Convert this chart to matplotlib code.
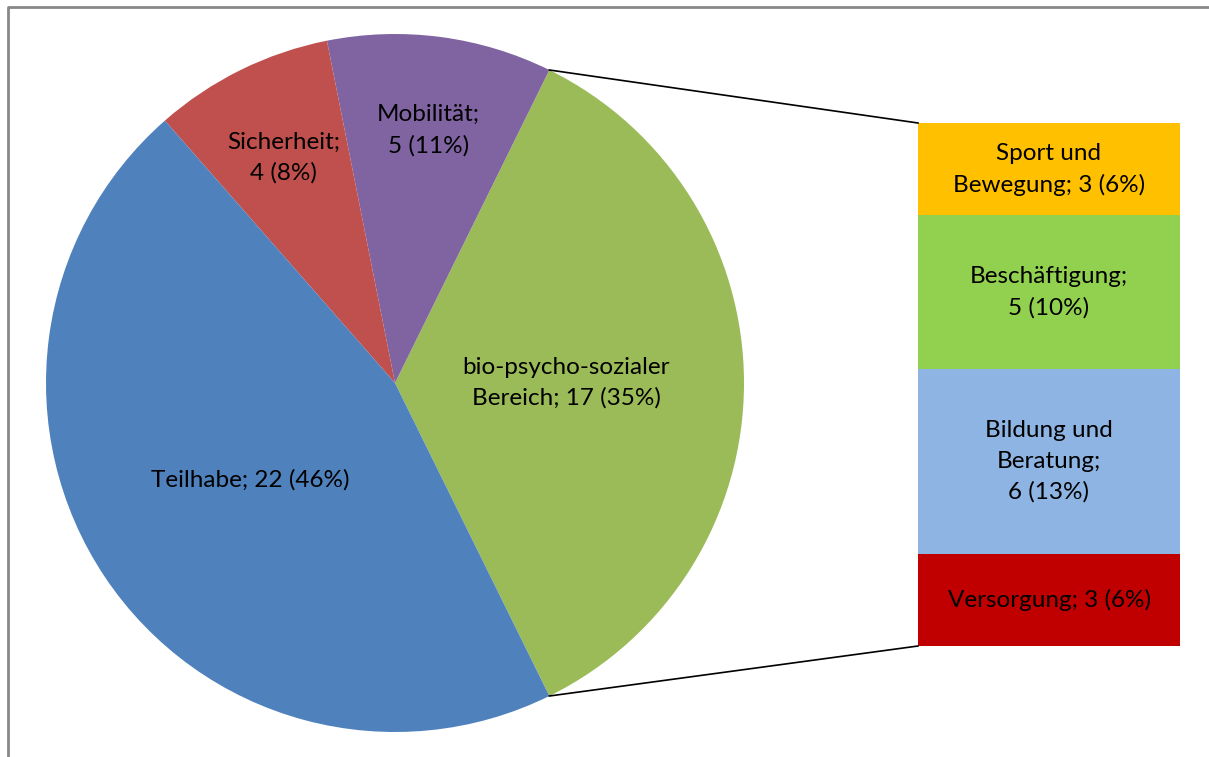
import matplotlib.pyplot as plt
import numpy as np

plt.rcParams['font.family'] = ['Lato', 'DejaVu Sans']

# pie: main categories
pie_labels = ['bio-psycho-sozialer\nBereich', 'Mobilität', 'Sicherheit', 'Teilhabe']
pie_values = [17, 5, 4, 22]
pie_pct = ['35%', '11%', '8%', '46%']
pie_colors = ['#9BBB59', '#8064A2', '#C0504D', '#4F81BD']

# bar: breakdown of the bio-psycho-social slice (bottom to top)
bar_labels = ['Versorgung', 'Bildung und\nBeratung', 'Beschäftigung', 'Sport und\nBewegung']
bar_values = [3, 6, 5, 3]
bar_pct = ['6%', '13%', '10%', '6%']
bar_colors = ['#C00000', '#8DB4E2', '#92D050', '#FFC000']

W, H = 1209, 757
fig = plt.figure(figsize=(W / 100, H / 100), dpi=100)
ax = fig.add_axes([0, 0, 1, 1])

cx, cy, r = 395, H - 383, 349
total = sum(pie_values)
half = pie_values[0] / total * 180
wedges, _ = ax.pie(pie_values, colors=pie_colors, startangle=-half, counterclock=True,
                   center=(cx, cy), radius=r, frame=True,
                   wedgeprops=dict(linewidth=0))
ax.set_xlim(0, W)
ax.set_ylim(0, H)
ax.set_aspect('equal')
ax.axis('off')

fs = 17.5
ls = 1.55
label_dist = [0.49, 0.73, 0.72, 0.5]
for w, lab, v, p, d in zip(wedges, pie_labels, pie_values, pie_pct, label_dist):
    mid = np.deg2rad((w.theta1 + w.theta2) / 2)
    if lab == 'Teilhabe' or '\n' in lab:
        txt = f'{lab}; {v} ({p})'
    else:
        txt = f'{lab};\n{v} ({p})'
    ax.text(cx + d * r * np.cos(mid), cy + d * r * np.sin(mid), txt,
            ha='center', va='center', fontsize=fs, linespacing=ls)

# stacked bar
bx, bw = 1049, 262
bottom0, bar_h = H - 646, 523
scale = bar_h / sum(bar_values)
heights = [v * scale for v in bar_values]
bottoms = bottom0 + np.concatenate([[0], np.cumsum(heights)[:-1]])
ax.bar([bx] * len(bar_values), heights, width=bw, bottom=bottoms, color=bar_colors, linewidth=0)

bar_texts = []
for lab, v, p in zip(bar_labels, bar_values, bar_pct):
    if lab == 'Versorgung' or lab.startswith('Sport'):
        bar_texts.append(f'{lab}; {v} ({p})')
    else:
        bar_texts.append(f'{lab};\n{v} ({p})')
for b, h, t in zip(bottoms, heights, bar_texts):
    ax.text(bx, b + h / 2, t, ha='center', va='center', fontsize=fs, linespacing=ls)

# connector lines from slice edge to bar corners
for ang, ycorner in [(half, bottom0 + bar_h), (-half, bottom0)]:
    a = np.deg2rad(ang)
    ax.plot([cx + r * np.cos(a), bx - bw / 2], [cy + r * np.sin(a), ycorner],
            color='black', linewidth=1.2)

# chart frame
ax.plot([8, 8, W + 5], [-5, H - 7, H - 7], color='#888888', linewidth=2, clip_on=False)

fig.savefig('out.png', dpi=100)
plt.close()
